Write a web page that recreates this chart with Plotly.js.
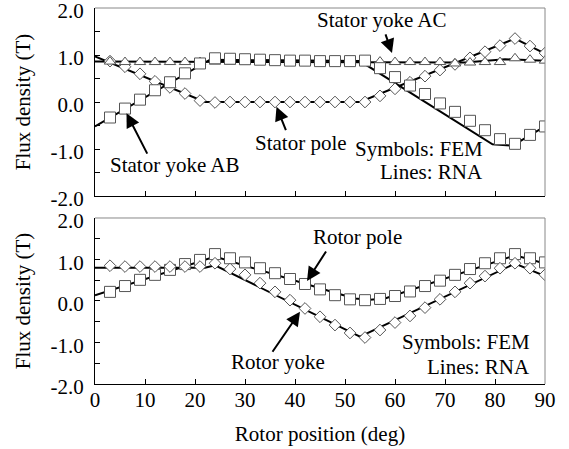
<!DOCTYPE html>
<html>
<head>
<meta charset="utf-8">
<script src="https://cdn.plot.ly/plotly-3.0.1.min.js"></script>
<style>html,body{margin:0;padding:0;background:#fff;}#chart{width:569px;height:449px;}</style>
</head>
<body>
<div id="chart"></div>
<script>
// FEM sample angles (deg)
const femAngle = [3,6,9,12,15,18,21,24,27,30,33,36,39,42,45,48,51,54,57,60,63,66,69,72,75,78,81,84,87,90];

// Top panel: stator (FEM symbols)
const femStatorYokeAB = [-0.33,-0.14,0.05,0.25,0.42,0.61,0.82,0.93,0.92,0.91,0.90,0.89,0.88,0.88,0.87,0.87,0.87,0.88,0.72,0.53,0.35,0.17,-0.03,-0.21,-0.40,-0.60,-0.79,-0.89,-0.70,-0.52];
const femStatorYokeAC = [0.86,0.85,0.85,0.85,0.85,0.85,0.85,0.86,0.86,0.86,0.86,0.85,0.85,0.85,0.85,0.85,0.85,0.86,0.86,0.85,0.85,0.85,0.85,0.82,0.84,0.85,0.85,0.93,0.90,0.88];
const femStatorPole  = [0.87,0.75,0.60,0.44,0.31,0.18,0.03,-0.01,0.0,0.0,0.0,0.0,0.0,0.0,0.0,0.0,0.0,0.0,0.13,0.28,0.42,0.55,0.68,0.80,0.94,1.07,1.20,1.35,1.19,1.04];

// Top panel: stator (RNA lines, breakpoints)
const rnaABAngle = [0,23,53,79.5,83.5,90];
const rnaAB      = [-0.52,0.90,0.87,-0.90,-0.93,-0.52];
const rnaACAngle = [0,74,82,90];
const rnaAC      = [0.86,0.84,0.91,0.88];
const rnaSPAngle = [0,22,53,84,90];
const rnaSP      = [0.97,0.0,0.0,1.35,1.03];

// Bottom panel: rotor (FEM symbols)
const femRotorPole = [0.22,0.36,0.51,0.63,0.75,0.89,0.99,1.13,1.03,0.93,0.79,0.67,0.53,0.41,0.28,0.14,0.04,0.02,0.05,0.12,0.23,0.36,0.49,0.63,0.77,0.91,1.03,1.13,1.03,0.93];
const femRotorYoke = [0.85,0.83,0.83,0.83,0.83,0.83,0.83,0.91,0.77,0.63,0.43,0.22,0.02,-0.18,-0.38,-0.58,-0.77,-0.88,-0.70,-0.52,-0.36,-0.16,0.04,0.22,0.43,0.60,0.79,0.91,0.79,0.63];

// Bottom panel: rotor (RNA lines, breakpoints)
const rnaRPAngle = [0,24,48,52,55,58,84,90];
const rnaRP      = [0.14,1.07,0.20,0.06,0.03,0.06,1.10,0.90];
const rnaRYAngle = [0,22,24,53,84,90];
const rnaRY      = [0.80,0.80,0.86,-0.86,0.90,0.60];

// Tick labels
const yTickVals = [-2,-1,0,1,2];
const yTickText = ['-2.0','-1.0','0.0','1.0','2.0'];
const xTickVals = [0,10,20,30,40,50,60,70,80,90];
const xTickText = ['0','10','20','30','40','50','60','70','80','90'];

const FONT = 'Liberation Serif';
const mkLine = (x, y, xa, ya) => ({x, y, xaxis: xa, yaxis: ya, mode: 'lines', type: 'scatter',
  line: {color: '#000', width: 2}, hoverinfo: 'skip', showlegend: false});
const mkSym = (y, sym, size, xa, ya) => ({x: femAngle, y, xaxis: xa, yaxis: ya, mode: 'markers', type: 'scatter',
  marker: {symbol: sym, size, color: '#fff', line: {color: '#555', width: 1}}, showlegend: false});

const traces = [
  mkLine(rnaACAngle, rnaAC, 'x2', 'y2'),
  mkLine(rnaSPAngle, rnaSP, 'x2', 'y2'),
  mkLine(rnaABAngle, rnaAB, 'x2', 'y2'),
  mkSym(femStatorPole, 'diamond', 9, 'x2', 'y2'),
  mkSym(femStatorYokeAC, 'triangle-up', 10, 'x2', 'y2'),
  mkSym(femStatorYokeAB, 'square', 11, 'x2', 'y2'),
  mkLine(rnaRPAngle, rnaRP, 'x', 'y'),
  mkLine(rnaRYAngle, rnaRY, 'x', 'y'),
  mkSym(femRotorPole, 'square', 11, 'x', 'y'),
  mkSym(femRotorYoke, 'diamond', 9, 'x', 'y')
];

const yCommon = {
  range: [-2, 2], tickvals: yTickVals, ticktext: yTickText,
  ticks: 'inside', ticklen: 5, tickcolor: '#000', tickwidth: 1,
  minor: {dtick: 0.5, tick0: 0, ticks: 'inside', ticklen: 5, tickcolor: '#000', tickwidth: 1},
  showline: true, linecolor: '#000', linewidth: 1, zeroline: false, showgrid: false,
  tickfont: {family: FONT, size: 21, color: '#000'}, ticklabelstandoff: 6, ticklabelshift: 3, ticklabeloverflow: 'allow',
  title: {text: 'Flux density (T)', font: {family: FONT, size: 21, color: '#000'}, standoff: 14},
  automargin: false
};
const xCommon = {
  range: [0, 90], tickvals: xTickVals, ticktext: xTickText,
  ticks: 'inside', ticklen: 5, tickcolor: '#000', tickwidth: 1,
  showline: true, linecolor: '#000', linewidth: 1, zeroline: false, showgrid: false,
  tickfont: {family: FONT, size: 21, color: '#000'}, ticklabeloverflow: 'allow', automargin: false
};

const annFont = {family: FONT, size: 21, color: '#000'};
const txt = (text, x, y, xr, yr, xanchor) => ({text, x, y, xref: xr, yref: yr, showarrow: false,
  xanchor: xanchor || 'center', yanchor: 'middle', font: annFont});
const arr = (x, y, ax, ay, xr, yr) => ({text: '', x, y, ax, ay, xref: xr, yref: yr, axref: xr, ayref: yr,
  showarrow: true, arrowhead: 2, arrowsize: 1.4, arrowwidth: 2, arrowcolor: '#000', standoff: 0, startstandoff: 0});

const annotations = [
  txt('Stator yoke AC', 57.4, 1.745, 'x2', 'y2'),
  arr(59.4, 1.04, 58.0, 1.47, 'x2', 'y2'),
  txt('Stator yoke AB', 16.0, -1.34, 'x2', 'y2'),
  arr(6.3, -0.24, 10.6, -1.13, 'x2', 'y2'),
  txt('Stator pole', 41.2, -0.87, 'x2', 'y2'),
  arr(36.3, -0.10, 38.3, -0.63, 'x2', 'y2'),
  txt('Symbols: FEM', 78.0, -0.99, 'x2', 'y2', 'right'),
  txt('Lines: RNA', 78.0, -1.48, 'x2', 'y2', 'right'),
  txt('Rotor pole', 52.4, 1.55, 'x', 'y'),
  arr(42.4, 0.48, 46.4, 1.23, 'x', 'y'),
  txt('Rotor yoke', 36.6, -1.47, 'x', 'y'),
  arr(41.0, -0.26, 35.3, -1.26, 'x', 'y'),
  txt('Symbols: FEM', 87.4, -1.0, 'x', 'y', 'right'),
  txt('Lines: RNA', 87.4, -1.59, 'x', 'y', 'right')
];

const frame = (yd) => [
  {type: 'line', xref: 'paper', yref: 'paper', x0: 0, x1: 1, y0: yd, y1: yd, line: {color: '#888', width: 1}},
  {type: 'line', xref: 'paper', yref: 'paper', x0: 1, x1: 1, y0: yd === 1 ? 0.5 : 0, y1: yd, line: {color: '#888', width: 1}}
];

const layout = {
  width: 569, height: 449,
  margin: {l: 95, r: 24, t: 8, b: 65},
  paper_bgcolor: '#fff', plot_bgcolor: '#fff',
  font: {family: FONT, color: '#000'},
  showlegend: false,
  xaxis: Object.assign({}, xCommon, {anchor: 'y', domain: [0, 1], ticklabelstandoff: -3,
    title: {text: 'Rotor position (deg)', font: {family: FONT, size: 21, color: '#000'}, standoff: 15}}),
  xaxis2: Object.assign({}, xCommon, {anchor: 'y2', domain: [0, 1], showticklabels: false}),
  yaxis: Object.assign({}, yCommon, {anchor: 'x', domain: [0, 0.4415]}),
  yaxis2: Object.assign({}, yCommon, {anchor: 'x2', domain: [0.5, 1]}),
  annotations,
  shapes: frame(1).concat(frame(0.4415))
};

Plotly.newPlot('chart', traces, layout, {displayModeBar: false, staticPlot: true});
</script>
</body>
</html>
